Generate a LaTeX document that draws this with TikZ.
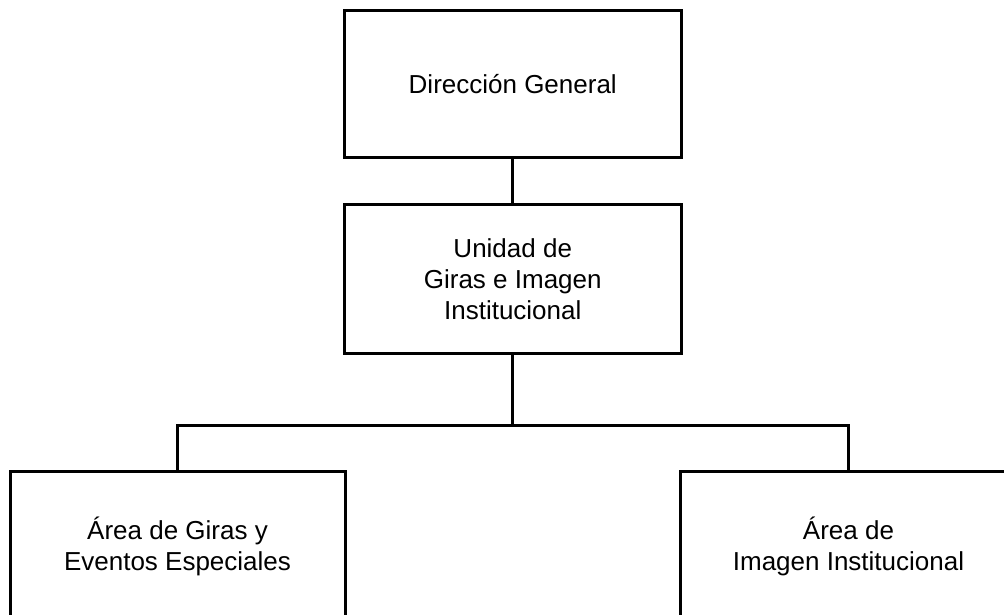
\documentclass[tikz,border=0pt]{standalone}
\usepackage{fontspec}
\setmainfont{Liberation Sans}
\begin{document}
\begin{tikzpicture}[x=1pt,y=-1pt,
  box/.style={draw=black, line width=3pt, inner sep=0pt, align=center,
    font=\fontsize{26}{31}\selectfont},
  conn/.style={draw=black, line width=3pt}]
\useasboundingbox (0,0) rectangle (1004,615);
\clip (0,0) rectangle (1004,615);
\node[box, minimum width=336.5pt, minimum height=146.5pt] (dg) at (512.75,84.25) {Dirección General};
\node[box, minimum width=336.5pt, minimum height=149pt] (ug) at (512.75,279) {Unidad de\\Giras e Imagen\\Institucional};
\node[box, minimum width=335pt, minimum height=150pt] (ga) at (177.5,546.5) {Área de Giras y\\Eventos Especiales};
\node[box, minimum width=336pt, minimum height=150pt] (ii) at (848.5,546.5) {Área de\\Imagen Institucional};
\coordinate (hb) at (512.75,425);
\draw[conn] (dg.south) -- (ug.north);
\draw[conn] (ug.south) -- (hb);
\draw[conn] (ga.north) |- (hb) -| (ii.north);
\end{tikzpicture}
\end{document}
